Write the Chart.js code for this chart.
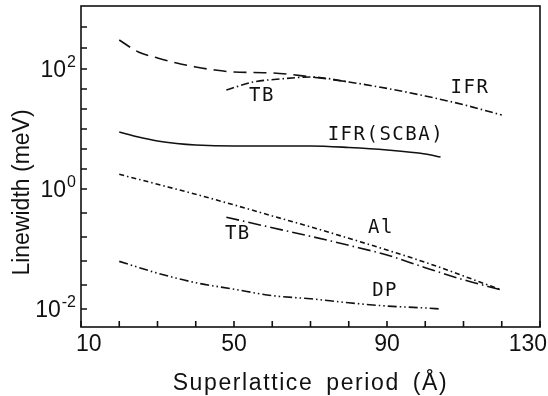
<!DOCTYPE html>
<html>
<head>
<meta charset="utf-8">
<script src="https://cdn.jsdelivr.net/npm/chart.js@4.4.1/dist/chart.umd.min.js"></script>
<style>
html,body{margin:0;padding:0;background:#fff;}
#wrap{width:548px;height:396px;}
</style>
</head>
<body>
<div id="wrap"><canvas id="chart"></canvas></div>
<script>
// superlattice period in Angstrom, linewidth in meV
const ifr_x  = [20, 25, 30, 35, 40, 45, 50, 60, 70, 80];
const ifr_y  = [304, 192, 153, 126, 108, 96, 89, 86, 74, 61];
const tbHi_x = [48, 55, 62, 70, 80, 90, 100, 110, 120];
const tbHi_y = [44.7, 60.7, 68.1, 73.6, 60.7, 47.5, 35.5, 25.4, 17.1];
const scba_x = [20, 25, 30, 35, 40, 50, 60, 70, 80, 90, 100, 104];
const scba_y = [8.91, 7.36, 6.31, 5.73, 5.41, 5.21, 5.21, 5.21, 4.92, 4.47, 3.83, 3.41];
const al_x   = [20, 30, 40, 50, 60, 70, 80, 90, 100, 110, 120];
const al_y   = [1.76, 1.20, 0.816, 0.543, 0.356, 0.234, 0.151, 0.0962, 0.060, 0.0355, 0.0207];
const tbLo_x = [48, 60, 70, 80, 90, 100, 110, 120];
const tbLo_y = [0.339, 0.226, 0.163, 0.115, 0.0794, 0.0488, 0.0307, 0.0207];
const dp_x   = [20, 30, 40, 50, 60, 70, 80, 90, 100, 104];
const dp_y   = [0.0622, 0.0396, 0.0274, 0.0214, 0.0167, 0.0148, 0.0127, 0.0112, 0.0104, 0.0100];

// axis ticks
const x_ticks = [10, 20, 30, 40, 50, 60, 70, 80, 90, 100, 110, 120, 130];
const x_tick_labels = [10, 50, 90, 130];
const y_tick_exp = [-2, -1.6, -1.2, -0.8, -0.4, 0, 0.333, 0.667, 1, 1.333, 1.667, 2, 2.35, 2.7];
const y_label_exp = [-2, 0, 2];
const y_label_sup = ["-2", "0", "2"];

// curve annotations, anchored in data units
const curve_labels  = ["TB", "IFR", "IFR(SCBA)", "Al", "TB", "DP"];
const curve_label_x = [57.3, 111.7, 89.7, 88.4, 51, 89.5];
const curve_label_y = [35.5, 48.3, 7.94, 0.224, 0.178, 0.02];

const x_title = "Superlattice period (Å)";
const y_title = "Linewidth (meV)";

const INK = '#111';
const NARROW = '"Liberation Sans Narrow", "Liberation Sans", sans-serif';

function pts(xs, ys){
    return xs.map((x, i) => ({x: x, y: ys[i]}));
}

function curve(xs, ys, dash){
    return {
        data: pts(xs, ys),
        borderColor: INK,
        borderWidth: 1.6,
        borderDash: dash,
        borderCapStyle: 'butt',
        pointRadius: 0,
        fill: false,
        cubicInterpolationMode: 'monotone'
    };
}

// frame, inward ticks, tick labels, titles and curve labels
const frame_plugin = {
    id: 'frame',
    afterDraw(chart){
        const ctx = chart.ctx;
        const a = chart.chartArea;
        const xs = chart.scales.x;
        const ys = chart.scales.y;
        ctx.save();
        ctx.strokeStyle = INK;
        ctx.fillStyle = INK;
        ctx.lineWidth = 1.6;
        ctx.strokeRect(a.left, a.top, a.right - a.left, a.bottom - a.top);
        ctx.beginPath();
        for(const v of x_ticks){
            const px = xs.getPixelForValue(v);
            ctx.moveTo(px, a.bottom);
            ctx.lineTo(px, a.bottom - 6);
        }
        for(const e of y_tick_exp){
            const py = ys.getPixelForValue(Math.pow(10, e));
            ctx.moveTo(a.left, py);
            ctx.lineTo(a.left + 6, py);
        }
        ctx.stroke();

        // x tick labels
        ctx.font = '23px ' + NARROW;
        ctx.textBaseline = 'top';
        for(let i = 0; i < x_tick_labels.length; i++){
            const v = x_tick_labels[i];
            const px = xs.getPixelForValue(v);
            const s = String(v);
            if(i == 0){
                ctx.textAlign = 'left';
                ctx.fillText(s, px - 5, a.bottom + 6);
            }
            else if(i == x_tick_labels.length - 1){
                ctx.textAlign = 'right';
                ctx.fillText(s, chart.width - 1, a.bottom + 6);
            }
            else{
                ctx.textAlign = 'center';
                ctx.fillText(s, px, a.bottom + 6);
            }
        }

        // y tick labels as 10^n
        ctx.textBaseline = 'middle';
        for(let i = 0; i < y_label_exp.length; i++){
            const py = ys.getPixelForValue(Math.pow(10, y_label_exp[i]));
            ctx.font = '16px ' + NARROW;
            ctx.textAlign = 'right';
            const sw = ctx.measureText(y_label_sup[i]).width;
            ctx.fillText(y_label_sup[i], a.left - 5, py - 6);
            ctx.font = '23px ' + NARROW;
            ctx.fillText("10", a.left - 6 - sw, py + 2);
        }

        // axis titles
        ctx.font = '23px "Liberation Sans", sans-serif';
        ctx.textAlign = 'center';
        ctx.textBaseline = 'alphabetic';
        ctx.letterSpacing = '1.6px';
        ctx.wordSpacing = '5px';
        ctx.fillText(x_title, (a.left + a.right) / 2, chart.height - 6);
        ctx.letterSpacing = '0px';
        ctx.wordSpacing = '0px';
        ctx.save();
        ctx.translate(29, (a.top + a.bottom) / 2 + 26);
        ctx.rotate(-Math.PI / 2);
        ctx.fillText(y_title, 0, 0);
        ctx.restore();

        // curve labels
        ctx.font = '19px "DejaVu Sans Mono", monospace';
        ctx.letterSpacing = '1.5px';
        ctx.textBaseline = 'middle';
        for(let i = 0; i < curve_labels.length; i++){
            ctx.fillText(curve_labels[i], xs.getPixelForValue(curve_label_x[i]), ys.getPixelForValue(curve_label_y[i]));
        }
        ctx.restore();
    }
};

new Chart(document.getElementById('chart'), {
    type: 'line',
    data: {
        datasets: [
            curve(ifr_x, ifr_y, [13, 7]),
            curve(tbHi_x, tbHi_y, [8, 3, 1.5, 3]),
            curve(scba_x, scba_y, []),
            curve(al_x, al_y, [5, 3, 1.5, 3]),
            curve(tbLo_x, tbLo_y, [13, 4, 1.5, 4]),
            curve(dp_x, dp_y, [9, 3, 1.5, 3, 1.5, 3])
        ]
    },
    options: {
        responsive: true,
        maintainAspectRatio: false,
        animation: false,
        layout: { padding: {left: 0, right: 8, top: 6, bottom: 0} },
        plugins: {
            legend: { display: false },
            tooltip: { enabled: false }
        },
        scales: {
            x: {
                type: 'linear',
                min: 10,
                max: 130,
                grid: { display: false },
                border: { display: false },
                ticks: { display: false },
                afterFit(s){ s.height = 69; }
            },
            y: {
                type: 'logarithmic',
                min: Math.pow(10, -2.3),
                max: Math.pow(10, 3.05),
                grid: { display: false },
                border: { display: false },
                ticks: { display: false },
                afterFit(s){ s.width = 81; }
            }
        }
    },
    plugins: [frame_plugin]
});
</script>
</body>
</html>
